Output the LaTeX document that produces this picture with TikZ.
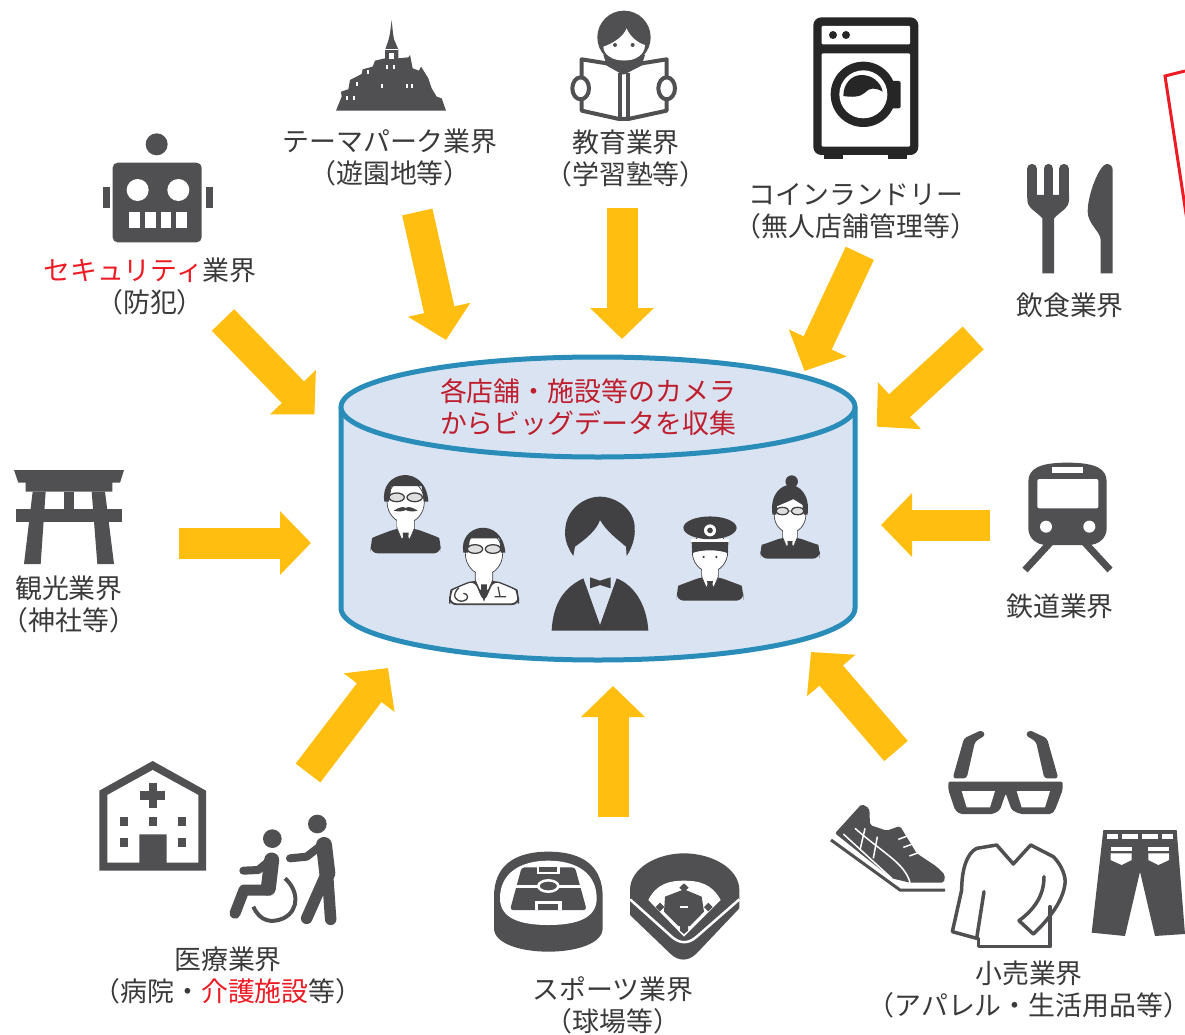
\documentclass[tikz,border=0pt]{standalone}
\usepackage{fontspec}
\setmainfont{Noto Sans CJK JP}
\usetikzlibrary{arrows.meta}
\definecolor{icongray}{HTML}{505052}
\definecolor{figdark}{HTML}{414143}
\definecolor{arrowgold}{HTML}{FFBE10}
\definecolor{cylfill}{HTML}{DAE3F1}
\definecolor{cylline}{HTML}{2A8DB9}
\definecolor{textgray}{HTML}{3A3A3A}
\definecolor{cyltext}{HTML}{BE1E2D}
\definecolor{alertred}{HTML}{ED1C24}
\tikzset{
  bigarrow/.style={line width=31pt,arrowgold,-{Triangle[width=62pt,length=31pt]}},
  lab/.style={align=center,text=textgray,font=\fontsize{26.9}{32}\selectfont,inner sep=0pt},
  icon/.style={fill=icongray,draw=none},
  hole/.style={fill=white,draw=none},
  limb/.style={draw=icongray,line cap=round,line join=round},
}
\newcommand{\bustfig}{
  \fill[figdark,rounded corners=7pt](-105,160)--(-105,135)..controls(-100,112)and(-60,98)..(-28,85)--(28,85)..controls(60,98)and(100,112)..(105,135)--(105,160)--cycle;
  \draw[figdark,line width=0.7pt,fill=white](-26,50)--(-26,85)--(-12,118)--(0,105)--(12,118)--(26,85)--(26,50);
  \fill[figdark](-9,98)--(9,98)--(6,135)--(-6,135)--cycle;
  \draw[figdark,line width=0.7pt,fill=white](0,5)ellipse[x radius=56,y radius=64];
  \fill[white](-25,50)rectangle(25,80);
}
\newcommand{\bustglasses}{
  \draw[figdark,line width=1.3pt,fill=gray!25](-27,-8)ellipse[x radius=23,y radius=13];
  \draw[figdark,line width=1.3pt,fill=gray!25](27,-8)ellipse[x radius=23,y radius=13];
}
\begin{document}
\begin{tikzpicture}[x=1pt,y=-1pt]
\useasboundingbox(0,0)rectangle(1185,1035);
\fill[white](0,0)rectangle(1185,1035);

\coordinate(secfrom)at(223,320);\coordinate(secto)at(314.5,414.5);
\coordinate(themefrom)at(417.3,212);\coordinate(themeto)at(446,340);
\coordinate(edufrom)at(622,208);\coordinate(eduto)at(622,339);
\coordinate(laundryfrom)at(859.8,253.3);\coordinate(laundryto)at(804.5,371);
\coordinate(foodfrom)at(973.2,338);\coordinate(foodto)at(876.7,426.7);
\coordinate(shrinefrom)at(179,543);\coordinate(shrineto)at(311,543);
\coordinate(trainfrom)at(990,525);\coordinate(trainto)at(881,525);
\coordinate(medfrom)at(308,773);\coordinate(medto)at(388,668);
\coordinate(sportfrom)at(613,817);\coordinate(sportto)at(613,686);
\coordinate(retailfrom)at(896,751);\coordinate(retailto)at(811,652);

\draw[cylline,line width=5pt,fill=cylfill](341,407)--(341,608)arc[start angle=180,end angle=0,x radius=257,y radius=52]--(855,407);
\draw[cylline,line width=5pt,fill=cylfill](598,407)ellipse[x radius=257,y radius=50];
\node[lab,text=cyltext](cyllab)at(588,407){各店舗・施設等のカメラ\\からビッグデータを収集};

\foreach \a/\b in {secfrom/secto,themefrom/themeto,edufrom/eduto,laundryfrom/laundryto,foodfrom/foodto,shrinefrom/shrineto,trainfrom/trainto,medfrom/medto,sportfrom/sportto,retailfrom/retailto}
  \draw[bigarrow](\a)--(\b);

\begin{scope}[shift={(405.7,500)},scale=1/3]
  \bustfig
  \fill[figdark](-64,5)..controls(-80,-90)and(60,-112)..(68,5)--(54,5)--(48,-42)--(-42,-42)--(-50,5)--cycle;
  \bustglasses
  \fill[figdark](-36,32)..controls(-20,22)and(-8,18)..(0,24)..controls(8,18)and(20,22)..(36,32)..controls(20,36)and(8,34)..(0,30)..controls(-8,34)and(-20,36)..(-36,32)--cycle;
\end{scope}
\begin{scope}[shift={(484,551.7)},scale=1/3]
  \bustfig
  \fill[white,draw=figdark,line width=1.3pt,rounded corners=7pt](-103,157)--(-103,135)..controls(-95,112)and(-60,98)..(-28,85)--(0,150)--(28,85)..controls(60,98)and(95,112)..(103,135)--(103,157)--cycle;
  \fill[figdark](-9,100)--(9,100)--(5,136)--(0,150)--(-5,136)--cycle;
  \draw[figdark,line width=1.3pt](-75,108)..controls(-100,130)and(-85,152)..(-62,148)..controls(-45,145)and(-45,125)..(-62,125);
  \draw[figdark,line width=1.3pt](42,105)--(48,135)(32,135)--(66,135);
  \fill[figdark](-62,3)..controls(-78,-85)and(55,-108)..(64,3)--(50,3)--(46,-40)--(-42,-40)--(-48,3)--cycle;
  \bustglasses
\end{scope}
\begin{scope}[shift={(710,550)},scale=0.95/3]
  \bustfig
  \fill[figdark](-58,-25)--(58,-25)--(56,10)..controls(30,-2)and(-30,-2)..(-56,10)--cycle;
  \fill[white](-60,-34)rectangle(60,-26);
  \fill[figdark](0,-70)ellipse[x radius=84,y radius=36];
  \fill[white](0,-62)circle[radius=19];
  \fill[figdark](0,-62)circle[radius=9];
  \fill[figdark](-20,22)circle[radius=4];
  \fill[figdark](20,22)circle[radius=4];
\end{scope}
\begin{scope}[shift={(790,513.3)},scale=0.85/3]
  \bustfig
  \fill[figdark](-62,5)..controls(-72,-70)and(-30,-100)..(0,-100)..controls(30,-100)and(72,-70)..(62,5)--(48,5)--(44,-30)--(12,-50)--(-46,-25)--(-48,5)--cycle;
  \fill[figdark](6,-112)circle[radius=22];
  \bustglasses
\end{scope}
\begin{scope}[shift={(340,350)},scale=1/3]
  \fill[figdark](700,618)..controls(680,590)and(672,560)..(676,535)..controls(680,480)and(730,440)..(780,440)..controls(830,440)and(885,480)..(884,535)..controls(886,560)and(878,590)..(860,618)--(858,590)..controls(835,570)and(800,545)..(780,510)..controls(770,540)and(740,565)..(705,590)--cycle;
  \fill[figdark](635,842)..controls(640,740)and(690,705)..(730,685)--(780,825)--(830,685)..controls(880,705)and(920,760)..(925,842)--cycle;
  \fill[figdark](750,682)--(780,692)--(812,682)--(812,715)--(780,705)--(750,715)--cycle;
\end{scope}

\begin{scope}[shift={(90,125)},scale=1/3]
  \fill[icon](200,58)circle[radius=33];
  \fill[icon,rounded corners=5pt](68,352)--(68,113)--(335,113)--(335,352)--cycle;
  \fill[icon](38,185)rectangle(60,248);
  \fill[icon](348,185)rectangle(368,248);
  \fill[hole](143,195)circle[radius=33];
  \fill[hole](265,195)circle[radius=33];
  \foreach \tx in {118,165,212,259}
    \fill[hole](\tx,262)rectangle(\tx+32,309);
\end{scope}
\node[lab](seclab)at(150,286.5){\textcolor{alertred}{セキュリティ}業界\\（防犯）};

\begin{scope}[shift={(320,0)},scale=1/3]
  \fill[icon](48,332)--(65,290)--(63,275)--(85,268)--(90,240)--(125,222)--(128,208)--(158,200)--(165,182)--(195,175)--(195,150)--(205,122)--(210,100)--(215,60)--(219,100)--(222,118)--(235,148)--(235,175)--(265,172)--(270,165)--(278,205)--(297,212)--(303,200)--(325,235)--(335,265)--(350,290)--(365,295)--(378,332)--cycle;
  \draw[white,line width=1pt](195,148)--(235,148);
  \foreach \wx/\wy in {80/295,102/295,112/252,145/217,187/257,200/200,222/200,260/257,275/257}
    \fill[hole](\wx-3,\wy-6)rectangle(\wx+3,\wy+6);
  \fill[hole](208,160)rectangle(222,176);
\end{scope}
\node[lab](themelab)at(390,157){テーマパーク業界\\（遊園地等）};

\begin{scope}[shift={(320,0)},scale=1/3]
  \fill[icon](912,112)circle[radius=80];
  \fill[icon](850,165)--(975,165)--(965,195)--(912,222)--(860,195)--cycle;
  \fill[hole](850,140)..controls(880,130)and(910,110)..(920,85)..controls(930,110)and(955,130)..(975,135)..controls(975,165)and(945,182)..(912,182)..controls(880,182)and(850,165)..(850,140)--cycle;
  \fill[icon](885,135)circle[radius=6];
  \fill[icon](938,135)circle[radius=6];
  \draw[icongray,line width=4pt,fill=white,line join=round](785,178)--(860,190)--(910,218)--(965,190)--(1040,178)--(1040,332)--(925,357)--(897,357)--(785,332)--cycle;
  \fill[icon](862,182)--(960,182)--(912,212)--cycle;
  \draw[icongray,line width=4pt](900,218)--(900,357);
  \draw[icongray,line width=4pt](925,218)--(925,357);
  \draw[icongray,line width=4pt,fill=white](782,265)ellipse[x radius=25,y radius=33];
  \draw[icongray,line width=4pt,fill=white](1040,265)ellipse[x radius=25,y radius=33];
\end{scope}
\node[lab](edulab)at(626,158.5){教育業界\\（学習塾等）};

\begin{scope}[shift={(760,0)},scale=1/3]
  \fill[black!85,rounded corners=8pt](160,52)rectangle(475,465);
  \fill[hole,rounded corners=1pt](185,78)rectangle(450,133);
  \fill[hole,rounded corners=1pt](185,160)rectangle(450,440);
  \fill[black!85](219,105)circle[radius=12];
  \fill[black!85](258,105)circle[radius=12];
  \fill[black!85](193,460)rectangle(248,478);
  \fill[black!85](385,460)rectangle(440,478);
  \fill[black!85,rounded corners=2pt](385,243)rectangle(422,325);
  \fill[black!85](310,283)circle[radius=98];
  \fill[hole](310,283)circle[radius=72];
  \fill[black!85](250,288)..controls(250,250)and(275,225)..(305,225)..controls(335,225)and(362,245)..(368,275)..controls(345,262)and(330,262)..(315,278)..controls(300,292)and(275,292)..(250,288)--cycle;
\end{scope}
\node[lab](laundrylab)at(856,211){コインランドリー\\（無人店舗管理等）};

\begin{scope}[shift={(760,0)},scale=1/3]
  \foreach \tx in {816,865,912}
    \draw[icongray,line width=9.6pt,line cap=round](\tx,506)--(\tx,590);
  \fill[icon](802,585)--(927,585)--(927,600)..controls(927,625)and(900,635)..(882,655)--(882,820)--(847,820)--(847,655)..controls(830,635)and(802,625)..(802,600)--cycle;
  \fill[icon](1058,820)--(1058,510)..controls(1058,498)and(1050,492)..(1040,492)..controls(1020,492)and(983,580)..(983,635)..controls(983,672)and(1022,695)..(1022,720)--(1022,820)--cycle;
\end{scope}
\node[lab](foodlab)at(1070,305){飲食業界};

\begin{scope}[shift={(5,460)},scale=1/3]
  \fill[icon](27,30)--(357,30)--(345,68)--(322,68)--(322,95)--(62,95)--(62,68)--(40,68)--cycle;
  \fill[icon](33,146)rectangle(350,185);
  \fill[icon](83,95)--(122,95)--(107,312)--(57,312)--cycle;
  \fill[icon](260,95)--(300,95)--(327,312)--(277,312)--cycle;
  \fill[icon](177,95)rectangle(208,146);
\end{scope}
\node[lab](shrinelab)at(69,604){観光業界\\（神社等）};

\begin{scope}[shift={(1010,450)},scale=1/3]
  \draw[icongray,line width=7pt](128,270)--(45,360);
  \draw[icongray,line width=7pt](217,270)--(300,360);
  \fill[icon](55,95)..controls(55,55)and(90,38)..(172,38)..controls(255,38)and(290,55)..(290,95)--(290,235)..controls(290,265)and(265,285)..(235,285)--(110,285)..controls(80,285)and(55,265)..(55,235)--cycle;
  \fill[hole,rounded corners=2pt](82,87)rectangle(265,175);
  \fill[hole](127,50)rectangle(220,70);
  \fill[hole](108,230)circle[radius=18];
  \fill[hole](238,230)circle[radius=18];
\end{scope}
\node[lab](trainlab)at(1060,606){鉄道業界};

\begin{scope}[shift={(90,750)},scale=1/3]
  \fill[icon](28,122)--(188,33)--(348,122)--(348,362)--(28,362)--cycle;
  \fill[hole](52,135)--(188,60)--(325,135)--(325,338)--(230,338)--(230,253)--(148,253)--(148,338)--(52,338)--cycle;
  \fill[icon](176,99)rectangle(201,175);
  \fill[icon](150,124)rectangle(226,150);
  \foreach \wx/\wy in {102/215,188/215,275/215,102/278,275/278}
    \fill[icon](\wx-12,\wy-14)rectangle(\wx+12,\wy+14);
  \fill[icon](547,266)circle[radius=28];
  \fill[icon](682,222)circle[radius=28];
  \draw[limb,line width=15pt](545,330)--(535,415);
  \draw[limb,line width=11pt](530,420)--(462,420)--(435,490);
  \draw[limb,line width=8pt](535,335)--(505,360)--(460,362);
  \draw[limb,line width=4pt,line cap=butt](585,385)..controls(625,420)and(630,480)..(580,505)..controls(545,520)and(510,515)..(490,470);
  \draw[limb,line width=16pt](702,285)--(712,370);
  \draw[limb,line width=11.5pt](712,365)--(650,505);
  \draw[limb,line width=11.5pt](712,365)--(722,508);
  \draw[limb,line width=8pt](695,285)--(650,320)--(600,325);
\end{scope}
\node[lab](medlab)at(228,975.5){医療業界\\（病院・\textcolor{alertred}{介護施設}等）};

\begin{scope}[shift={(480,840)},scale=1/3]
  \fill[icon](42,170)..controls(42,80)and(100,35)..(205,35)..controls(310,35)and(368,80)..(368,170)--(368,265)..controls(368,310)and(290,335)..(205,335)..controls(120,335)and(42,310)..(42,265)--cycle;
  \fill[hole](60,175)..controls(60,100)and(120,62)..(205,62)..controls(290,62)and(350,100)..(350,175)..controls(350,235)and(290,255)..(205,255)..controls(120,255)and(60,235)..(60,175)--cycle;
  \fill[icon,rounded corners=3pt](125,82)--(285,82)--(320,210)--(90,210)--cycle;
  \fill[hole](108,135)rectangle(302,143);
  \fill[hole](170,82)rectangle(240,102);
  \fill[icon](178,82)rectangle(232,95);
  \fill[hole](165,183)rectangle(245,210);
  \fill[icon](175,193)rectangle(235,210);
  \draw[white,line width=2.5pt,fill=icongray](205,138)ellipse[x radius=30,y radius=17];
  \fill[icon](450,150)..controls(450,85)and(530,40)..(612,40)..controls(695,40)and(778,85)..(778,150)--(778,205)--(650,340)..controls(625,365)and(595,365)..(570,340)--(450,225)--cycle;
  \fill[hole](505,180)..controls(530,130)and(570,122)..(612,122)..controls(655,122)and(695,130)..(722,180)--(612,290)--cycle;
  \draw[white,line width=2.5pt](450,178)--(575,290)..controls(600,312)and(625,312)..(650,290)--(778,178);
  \fill[icon](555,170)--(612,148)--(665,170)--(672,215)--(630,258)--(595,258)--(552,215)--cycle;
  \fill[icon](612,130)--(626,143)--(612,156)--(598,143)--cycle;
  \fill[icon](540,188)--(553,201)--(540,214)--(527,201)--cycle;
  \fill[icon](685,188)--(698,201)--(685,214)--(672,201)--cycle;
  \fill[icon](600,258)--(624,258)--(624,272)--(612,282)--(600,272)--cycle;
  \fill[hole](600,199)rectangle(624,205);
\end{scope}
\node[lab](sportlab)at(613,1005.5){スポーツ業界\\（球場等）};

\begin{scope}[shift={(820,710)},scale=1/3]
  \fill[icon,rounded corners=2pt](385,215)--(728,215)--(728,240)--(705,300)--(695,312)--(600,312)--(575,300)--(557,250)--(540,300)--(520,312)--(420,312)--(405,300)--(385,240)--cycle;
  \fill[hole](425,243)--(525,243)--(510,292)--(440,292)--cycle;
  \fill[hole](590,243)--(690,243)--(675,292)--(605,292)--cycle;
  \fill[icon,rounded corners=3pt](398,205)--(432,85)--(485,60)--(497,75)--(465,95)--(440,205)--cycle;
  \fill[icon,rounded corners=3pt](715,205)--(681,85)--(628,60)--(616,75)--(648,95)--(673,205)--cycle;

  \fill[icon,rounded corners=2pt](45,370)--(125,282)--(148,295)--(150,345)--(200,362)--(240,348)--(290,430)--(350,470)--(375,495)--(372,518)--(270,518)--(215,505)--cycle;
  \draw[icongray,line width=3pt](33,390)--(240,540)--(375,540);
  \draw[white,line width=1.5pt](105,355)..controls(190,430)and(255,460)..(270,518);
  \draw[white,line width=1.5pt](70,372)--(215,505);
  \draw[white,line width=1.5pt](135,355)--(120,420);
  \draw[white,line width=1.5pt](172,380)--(160,445);
  \draw[white,line width=1.5pt](235,388)--(262,378);
  \draw[white,line width=1.5pt](250,412)--(278,402);
  \draw[white,line width=1.5pt](268,438)--(295,428);

  \draw[limb,line width=3.5pt](475,685)--(475,710)--(690,710)--(690,590);
  \draw[limb,line width=3.5pt](492,545)--(470,685)--(397,665)--(425,540)..controls(425,480)and(440,430)..(470,415)--(530,405)--(580,462)--(632,405)--(700,440)..controls(725,465)and(738,500)..(735,520)..controls(730,570)and(690,625)..(640,672)--(597,632)..controls(640,600)and(672,560)..(672,500);

  \fill[icon](850,360)--(1070,360)--(1095,672)--(1005,678)--(960,485)--(915,678)--(815,668)--cycle;
  \foreach \bx/\bw in {862/31,905/50,965/50,1027/31}
    \fill[hole](\bx,373)rectangle(\bx+\bw,388);
  \fill[hole](872,410)rectangle(935,422);
  \fill[hole](985,410)rectangle(1047,422);
  \fill[hole](872,430)--(935,430)--(935,450)--(905,465)--(872,450)--cycle;
  \fill[hole](985,430)--(1047,430)--(1047,450)--(1015,465)--(985,450)--cycle;
\end{scope}
\node[lab](retaillab)at(1029,989.5){小売業界\\\kern-12pt（アパレル・生活用品等）\kern-12pt};

\draw[alertred,line width=3pt](1185,71)--(1165,76)--(1190,240);
\end{tikzpicture}
\end{document}
